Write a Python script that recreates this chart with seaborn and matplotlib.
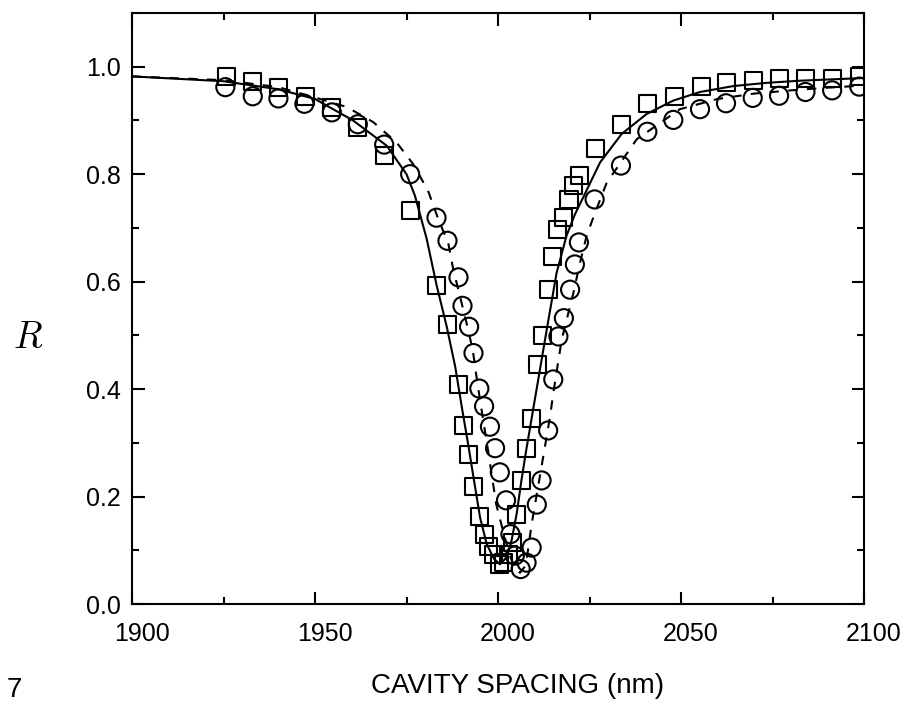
import numpy as np
import pandas as pd
import seaborn as sns
import matplotlib
matplotlib.use("Agg")
import matplotlib.pyplot as plt
from matplotlib.transforms import ScaledTranslation
from matplotlib.ticker import MultipleLocator

# ---- data ----
sq_x = [1925.7, 1933.0, 1940.0, 1947.3, 1954.6, 1961.6, 1968.9, 1976.2, 1983.3, 1986.2,
        1989.2, 1990.6, 1991.9, 1993.3, 1994.9, 1996.2, 1997.5, 1998.9, 2000.5, 2001.6,
        2002.8, 2004.0, 2005.1, 2006.4, 2007.8, 2009.2, 2010.7, 2012.2, 2013.7, 2014.9,
        2016.3, 2018.0, 2019.4, 2020.6, 2022.4, 2026.7, 2033.8, 2040.9, 2048.2, 2055.5,
        2062.5, 2069.7, 2076.8, 2084.1, 2091.4, 2098.7]
sq_y = [0.981, 0.973, 0.962, 0.945, 0.925, 0.887, 0.834, 0.733, 0.593, 0.521,
        0.409, 0.333, 0.279, 0.219, 0.163, 0.130, 0.107, 0.092, 0.074, 0.077,
        0.093, 0.115, 0.166, 0.230, 0.289, 0.346, 0.446, 0.499, 0.585, 0.646,
        0.697, 0.719, 0.753, 0.779, 0.797, 0.847, 0.892, 0.932, 0.945, 0.964,
        0.970, 0.974, 0.978, 0.979, 0.979, 0.981]

ci_x = [1925.5, 1933.0, 1940.0, 1947.1, 1954.6, 1961.7, 1968.9, 1976.0, 1983.2, 1986.2,
        1989.2, 1990.3, 1992.1, 1993.3, 1994.9, 1996.2, 1997.8, 1999.2, 2000.5, 2002.2,
        2003.4, 2004.6, 2006.2, 2007.8, 2009.2, 2010.6, 2011.9, 2013.7, 2015.1, 2016.5,
        2018.0, 2019.7, 2021.0, 2022.1, 2026.4, 2033.6, 2040.8, 2047.9, 2055.2, 2062.3,
        2069.6, 2076.8, 2084.0, 2091.3, 2098.7]
ci_y = [0.962, 0.945, 0.941, 0.931, 0.915, 0.893, 0.855, 0.800, 0.719, 0.676,
        0.608, 0.555, 0.516, 0.467, 0.401, 0.368, 0.330, 0.290, 0.245, 0.193,
        0.130, 0.090, 0.065, 0.077, 0.105, 0.185, 0.230, 0.323, 0.418, 0.498,
        0.532, 0.585, 0.632, 0.673, 0.753, 0.816, 0.879, 0.901, 0.921, 0.932,
        0.942, 0.946, 0.953, 0.956, 0.963]

# solid fit curve (squares)
fit1_x = [1900, 1925, 1940, 1950, 1960.4, 1969.6, 1975.0, 1977.3, 1980.5, 1983.2, 1986.0,
          1988.3, 1990.1, 1991.9, 1993.3, 1995.1, 1996.9, 1998.9, 2000.5, 2002.4, 2003.7,
          2005.1, 2006.4, 2007.8, 2010.3, 2013.3, 2016.0, 2018.7, 2021.0, 2023.5, 2027.9,
          2033.8, 2040.6, 2047.9, 2055.2, 2064.3, 2073.4, 2082.5, 2100]
fit1_y = [0.982, 0.973, 0.958, 0.940, 0.900, 0.853, 0.800, 0.760, 0.680, 0.594, 0.516,
          0.442, 0.367, 0.295, 0.236, 0.161, 0.112, 0.084, 0.074, 0.087, 0.118,
          0.168, 0.230, 0.290, 0.390, 0.510, 0.616, 0.685, 0.725, 0.760, 0.822,
          0.875, 0.912, 0.937, 0.953, 0.964, 0.970, 0.974, 0.979]

# dashed fit curve (circles)
fit2_x = [1900, 1925, 1940, 1951.4, 1958.7, 1965.9, 1972.3, 1976.8, 1980.9, 1983.7, 1986.4,
          1987.8, 1989.6, 1991.4, 1993.1, 1994.0, 1995.1, 1997.3, 1999.5, 2001.0, 2003.0,
          2004.5, 2006.0, 2007.6, 2009.2, 2011.0, 2012.8, 2014.2, 2015.1, 2017.4, 2020.6,
          2022.4, 2024.2, 2026.5, 2029.7, 2037.9, 2049.7, 2060.0, 2070.0, 2080.0, 2090.0, 2100]
fit2_y = [0.982, 0.975, 0.962, 0.940, 0.925, 0.897, 0.859, 0.819, 0.769, 0.716, 0.672,
          0.622, 0.573, 0.523, 0.473, 0.429, 0.379, 0.285, 0.186, 0.146, 0.095,
          0.068, 0.058, 0.072, 0.149, 0.220, 0.292, 0.348, 0.392, 0.492, 0.579,
          0.635, 0.685, 0.728, 0.784, 0.865, 0.921, 0.940, 0.950, 0.956, 0.961, 0.965]

x_ticks = [1900, 1950, 2000, 2050, 2100]
y_ticks = [0.0, 0.2, 0.4, 0.6, 0.8, 1.0]

sns.set_style("ticks")
plt.rcParams["font.family"] = ["Liberation Sans", "DejaVu Sans"]
plt.rcParams["mathtext.fontset"] = "cm"

fig = plt.figure(figsize=(9.12, 7.04), dpi=100)
ax = fig.add_axes([132 / 912, 1 - 604 / 704, (864 - 132) / 912, (604 - 13) / 704])

sns.lineplot(x=fit1_x, y=fit1_y, ax=ax, color="black", linewidth=1.5, sort=False,
             estimator=None)
sns.lineplot(x=fit2_x, y=fit2_y, ax=ax, color="black", linewidth=1.5, sort=False,
             estimator=None, dashes=False, linestyle=(0, (4.5, 4.5)))

sns.scatterplot(x=sq_x, y=sq_y, ax=ax, marker="s", s=150, linewidth=1.5)
sns.scatterplot(x=ci_x, y=ci_y, ax=ax, marker="o", s=170, linewidth=1.5)
for coll in ax.collections:
    coll.set_facecolor("none")
    coll.set_edgecolor("black")

ax.set_xlim(1900, 2100)
ax.set_ylim(0, 1.1)
ax.set_xticks(x_ticks)
ax.set_yticks(y_ticks)
ax.set_xticklabels([str(v) for v in x_ticks])
ax.set_yticklabels([f"{v:.1f}" for v in y_ticks])
ax.xaxis.set_minor_locator(MultipleLocator(25))
ax.yaxis.set_minor_locator(MultipleLocator(0.1))
ax.tick_params(which="both", direction="in", top=True, right=True, width=1.5,
               color="black", labelsize=18, labelcolor="black")
ax.tick_params(which="major", length=9)
ax.tick_params(which="minor", length=5)
ax.tick_params(axis="x", pad=13)
ax.tick_params(axis="y", pad=8)
for sp in ax.spines.values():
    sp.set_linewidth(1.5)
    sp.set_color("black")
ax.set_xlabel("")
ax.set_ylabel("")

off = ScaledTranslation(10 / 100, 0, fig.dpi_scale_trans)
for lab in ax.get_xticklabels():
    lab.set_transform(lab.get_transform() + off)

fig.text(518 / 912, 1 - 693 / 704, "CAVITY SPACING (nm)", ha="center", va="baseline",
         fontsize=20, color="black")
fig.text(28 / 912, 1 - 338 / 704, "$R$", ha="center", va="center", fontsize=27,
         color="black")
fig.text(7 / 912, 1 - 697 / 704, "7", ha="left", va="baseline", fontsize=20,
         color="black")

fig.savefig("out.png", dpi=100)
